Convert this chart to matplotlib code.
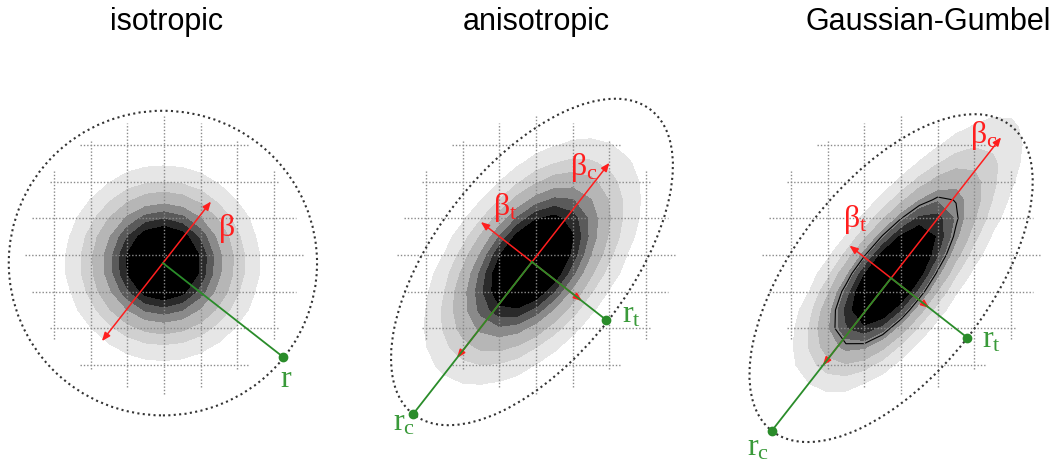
import numpy as np
import matplotlib.pyplot as plt
from matplotlib.patches import Ellipse

plt.rcParams['mathtext.fontset'] = 'custom'
plt.rcParams['mathtext.rm'] = 'Liberation Serif'

# panel data (units = grid spacing, relative to grid centre)
titles = ['isotropic', 'anisotropic', 'Gaussian-Gumbel']
kinds = ['gauss', 'gauss', 'gumbel']
centers = [(-0.03, -0.22), (-0.11, -0.19), (-0.27, -0.63)]
major_angle = [52, 52, 52]
sig_major = [1.25, 1.85, 3.6]
sig_minor = [1.25, 1.02, 0.8]
ell_axes = [(4.2, 4.15), (5.26, 2.62), (5.28, 2.64)]
ell_angle = [0, 52, 52]
beta_c = [(2.13, 2.7), (3.43, 3.32), (4.87, 3.02)]
beta_t = [None, (1.77, 1.73), (1.44, 1.32)]
r_c = [None, 5.26, 5.28]
r_t = [4.17, 2.57, 2.63]
beta_c_lab = [r'$\mathrm{\beta}$', r'$\mathrm{\beta_c}$', r'$\mathrm{\beta_c}$']
r_t_lab = [r'$\mathrm{r}$', r'$\mathrm{r_t}$', r'$\mathrm{r_t}$']
beta_c_pos = [(1.47, 0.52), (0.93, 2.18), (1.88, 3.05)]
beta_t_pos = [None, (-1.17, 1.09), (-1.58, 0.76)]
r_t_pos = [(3.16, -3.6), (2.34, -1.83), (2.2, -2.53)]
r_c_pos = [None, (-3.9, -4.77), (-4.2, -5.45)]

levels = [0.11, 0.21, 0.31, 0.44, 0.54, 0.63, 0.72, 1.01]
fills = ['#e6e6e6', '#d0d0d0', '#b6b6b6', '#8a8a8a', '#5a5a5a', '#2a2a2a', '#000000']
grid_pos = [-3, -2, -1, 0, 1, 2, 3]
grid_half = [2.3, 3.1, 3.6, 3.8, 3.6, 3.1, 2.3]
gumbel_k = 3.0

W, H = 1063, 471
u = 36.7
grid_cx = [164, 536, 901]
title_cx = [167, 536, 928]
grid_cy = 255
red = '#ff1e1e'
green = '#2a8c2a'
green_txt = '#3a9a3a'

fig = plt.figure(figsize=(W / 100, H / 100), dpi=100)

xs = np.arange(-7, 7.01, 0.5)
X, Y = np.meshgrid(xs, xs)

for i in range(3):
    ax = fig.add_axes([(grid_cx[i] - 190) / W, 0, 380 / W, 1])
    ax.set_xlim(-190 / u, 190 / u)
    ax.set_ylim(-(H - grid_cy) / u, grid_cy / u)
    ax.axis('off')

    cx, cy = centers[i]
    th = np.radians(major_angle[i])
    e1 = np.array([np.cos(th), np.sin(th)])
    e2 = np.array([np.sin(th), -np.cos(th)])  # down-right
    z = (X - cx) * e1[0] + (Y - cy) * e1[1]
    w = (X - cx) * e2[0] + (Y - cy) * e2[1]
    if kinds[i] == 'gauss':
        D = np.exp(-z**2 / (2 * sig_major[i]**2) - w**2 / (2 * sig_minor[i]**2))
    else:
        zz = z / sig_major[i]
        D = np.exp(-gumbel_k * (zz + np.exp(-zz) - 1) - w**2 / (2 * sig_minor[i]**2))
    ax.contourf(X, Y, D, levels=levels, colors=fills, zorder=1)
    if kinds[i] == 'gumbel':
        ax.contour(X, Y, D, levels=[0.5], colors='k', linewidths=0.8, zorder=1.5)

    # dotted grid
    for g, h in zip(grid_pos, grid_half):
        ax.plot([-h, h], [g, g], color='#8a8a8a', lw=1.0, ls=(0, (1, 1.4)), zorder=2)
        ax.plot([g, g], [-h, h], color='#8a8a8a', lw=1.0, ls=(0, (1, 1.4)), zorder=2)

    a, b = ell_axes[i]
    ax.add_patch(Ellipse((cx, cy), 2 * a, 2 * b, angle=ell_angle[i], fill=False,
                         ec='#333333', lw=1.5, ls=(0, (1, 1.6)), zorder=3))

    arr = dict(arrowstyle='<|-|>,head_length=0.5,head_width=0.2', color=red,
               lw=1.1, shrinkA=0, shrinkB=0)
    up, dn = beta_c[i]
    ax.annotate('', xy=(cx + up * e1[0], cy + up * e1[1]),
                xytext=(cx - dn * e1[0], cy - dn * e1[1]), arrowprops=arr, zorder=4)
    if beta_t[i] is not None:
        up, dn = beta_t[i]
        ax.annotate('', xy=(cx - up * e2[0], cy - up * e2[1]),
                    xytext=(cx + dn * e2[0], cy + dn * e2[1]), arrowprops=arr, zorder=4)

    ends = [(cx + r_t[i] * e2[0], cy + r_t[i] * e2[1])]
    if r_c[i] is not None:
        ends.append((cx - r_c[i] * e1[0], cy - r_c[i] * e1[1]))
    for ex, ey in ends:
        ax.plot([cx, ex], [cy, ey], color=green, lw=1.3, zorder=5)
        ax.plot(ex, ey, 'o', color=green, ms=6, zorder=6)

    ax.text(*beta_c_pos[i], beta_c_lab[i], color=red, fontsize=23, va='baseline', zorder=7)
    if beta_t_pos[i] is not None:
        ax.text(*beta_t_pos[i], r'$\mathrm{\beta_t}$', color=red, fontsize=23, va='baseline', zorder=7)
    ax.text(*r_t_pos[i], r_t_lab[i], color=green_txt, fontsize=23, va='baseline', zorder=7)
    if r_c_pos[i] is not None:
        ax.text(*r_c_pos[i], r'$\mathrm{r_c}$', color=green_txt, fontsize=23, va='baseline', zorder=7)

    fig.text(title_cx[i] / W, 1 - 30 / H, titles[i], ha='center', va='baseline',
             fontsize=22, family='Liberation Sans')

fig.savefig('out.png', dpi=100)
